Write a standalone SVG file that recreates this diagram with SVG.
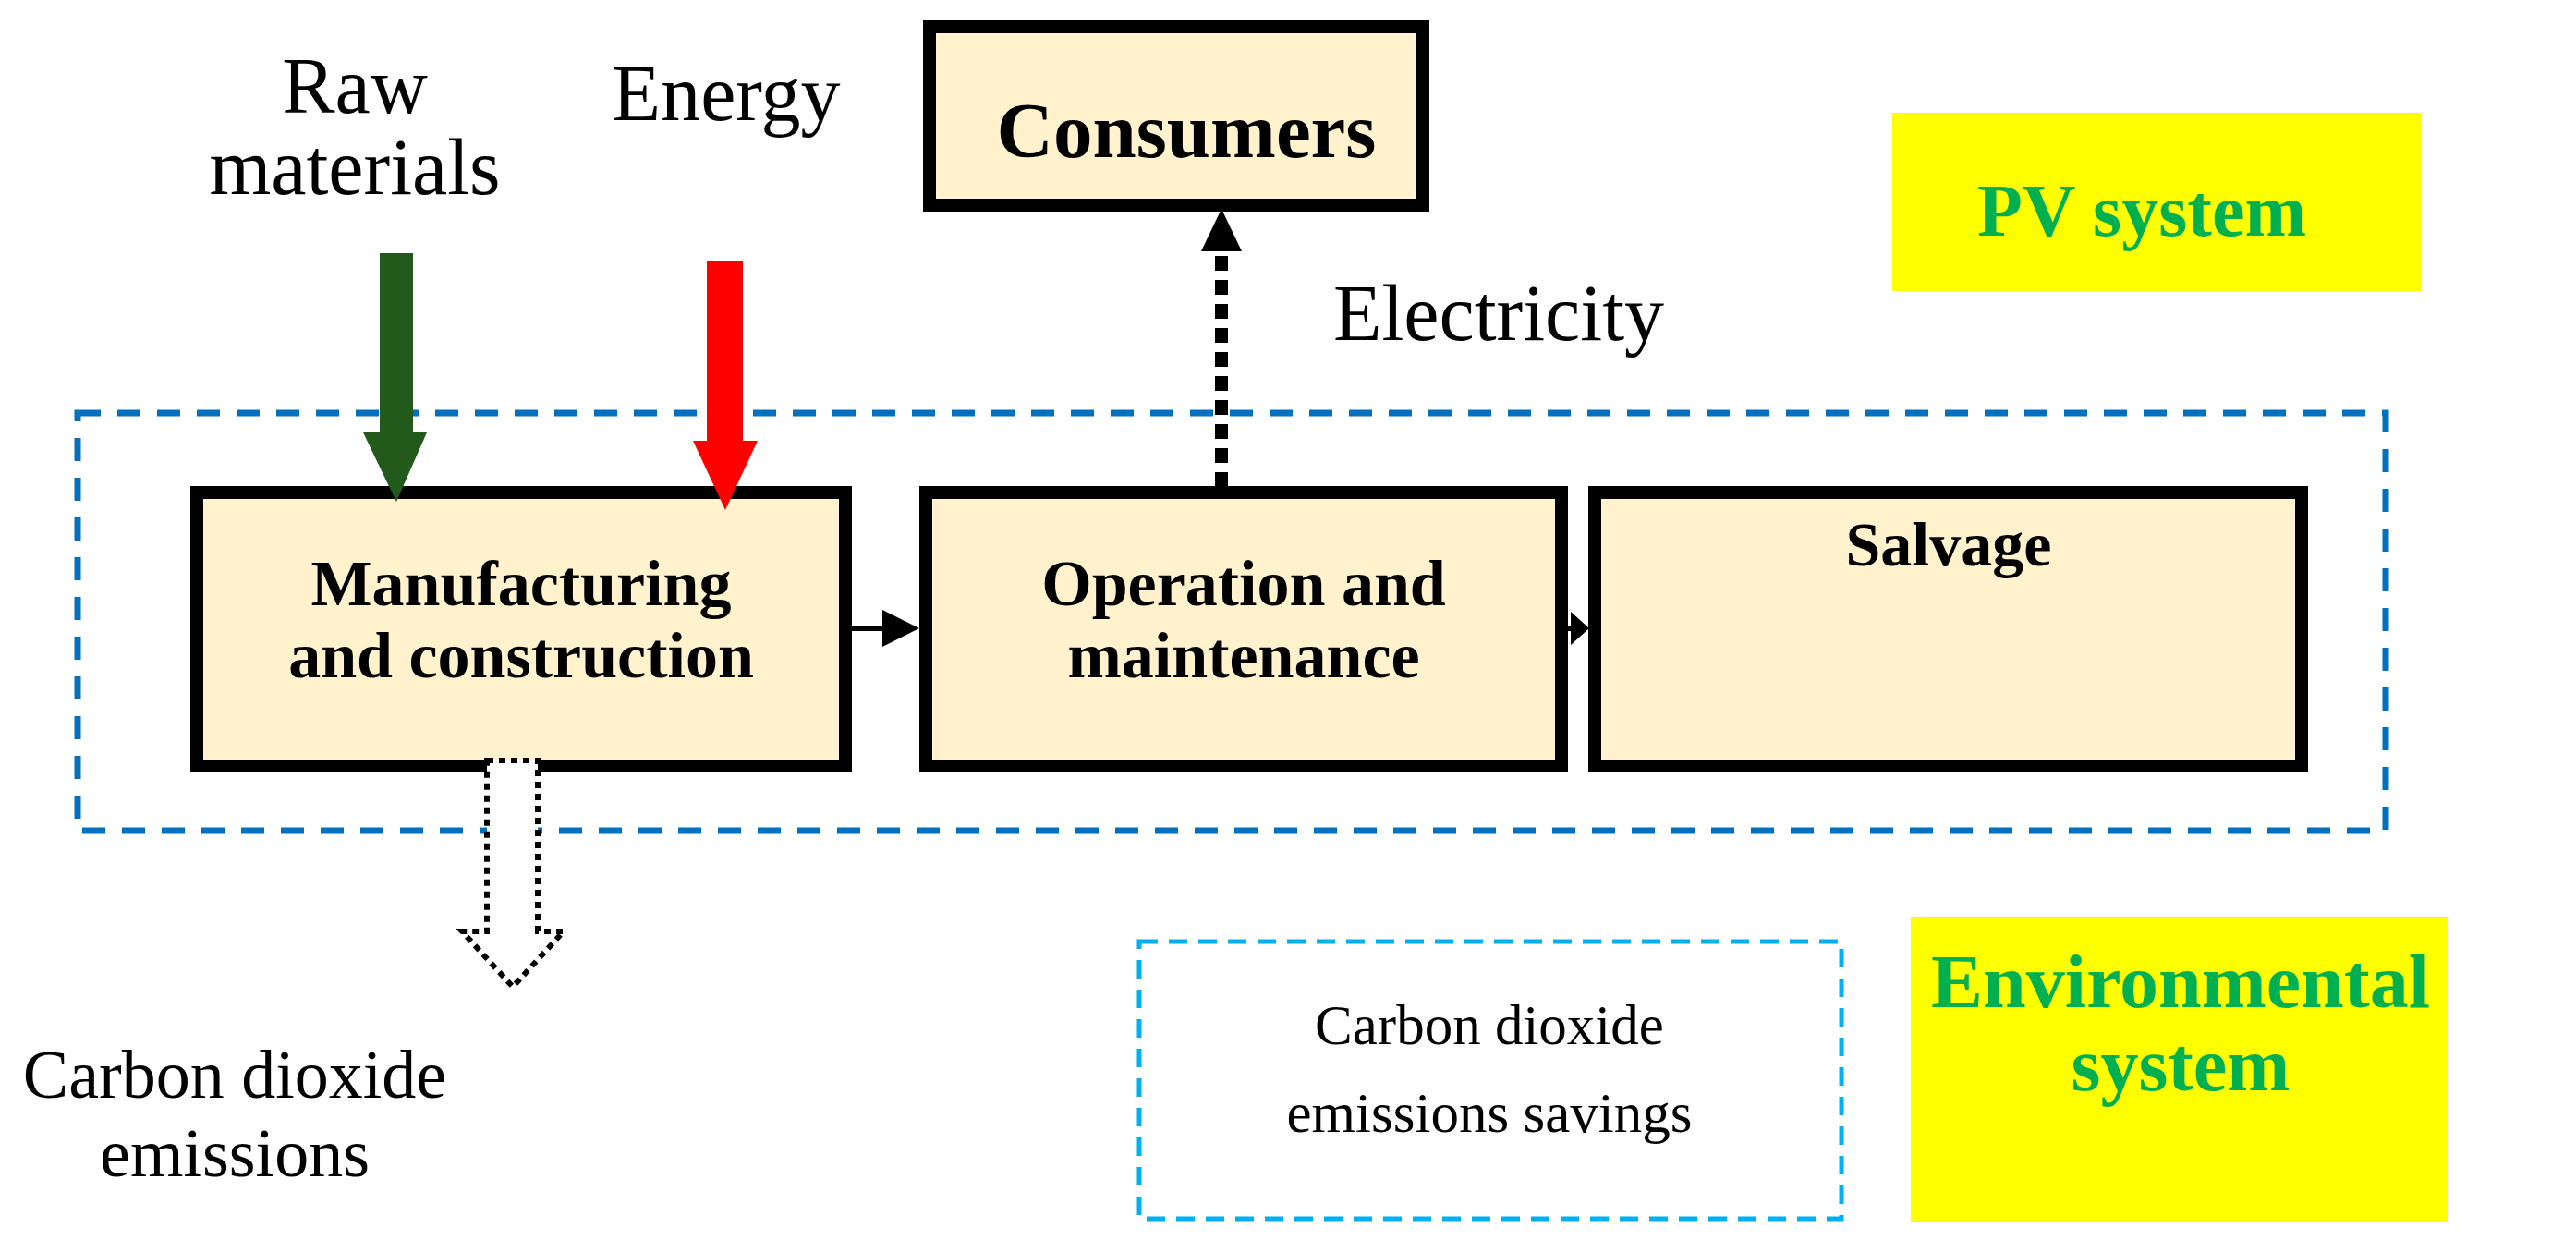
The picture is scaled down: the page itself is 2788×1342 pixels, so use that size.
<svg xmlns="http://www.w3.org/2000/svg" width="2788" height="1342" viewBox="0 0 2788 1342">
<style>
.box{fill:#fff2cc;stroke:#000;stroke-width:14}
.t{font-family:"Liberation Serif",serif;text-anchor:middle;fill:#000}
.b{font-weight:bold}
.g{fill:#00b050;font-weight:bold;font-family:"Liberation Serif",serif;text-anchor:middle}
</style>
<rect width="2788" height="1342" fill="#fff"/>
<g id="pv"><rect x="2048" y="122" width="572" height="193" fill="#ffff00"/><text class="g" x="2318" y="255" font-size="80">PV system</text></g>
<g id="env"><rect x="2068" y="992" width="582" height="330" fill="#ffff00"/><text class="g" x="2360" y="1090" font-size="82" textLength="540" lengthAdjust="spacingAndGlyphs">Environmental</text><text class="g" x="2360" y="1180" font-size="82">system</text></g>
<g id="pvbound"><rect x="84" y="447" width="2498" height="452" fill="none" stroke="#0070c0" stroke-width="7" stroke-dasharray="25,18"/></g>
<g id="savings"><rect x="1233" y="1019" width="760" height="300" fill="none" stroke="#00b0f0" stroke-width="5" stroke-dasharray="20,12"/><text class="t" x="1612" y="1130" font-size="61">Carbon dioxide</text><text class="t" x="1612" y="1225" font-size="61">emissions savings</text></g>
<g id="consumers"><rect class="box" x="1006" y="29" width="534" height="193"/><text class="t b" x="1284" y="170" font-size="85">Consumers</text></g>
<g id="manufacturing"><rect class="box" x="213" y="533" width="702" height="296"/><text class="t b" x="564" y="655" font-size="70">Manufacturing</text><text class="t b" x="564" y="733" font-size="70">and construction</text></g>
<g id="operation"><rect class="box" x="1002" y="533" width="688" height="296"/><text class="t b" x="1346" y="655" font-size="70">Operation and</text><text class="t b" x="1346" y="733" font-size="70">maintenance</text></g>
<g id="salvage"><rect class="box" x="1726" y="533" width="765" height="296"/><text class="t b" x="2109" y="612" font-size="68">Salvage</text></g>
<g id="labels">
<text class="t" x="384" y="122" font-size="86">Raw</text>
<text class="t" x="384" y="210" font-size="86">materials</text>
<text class="t" x="786" y="130" font-size="86">Energy</text>
<text class="t" x="1622" y="368" font-size="86">Electricity</text>
<text class="t" x="254" y="1188" font-size="74">Carbon dioxide</text>
<text class="t" x="254" y="1273" font-size="74">emissions</text>
</g>
<g id="connectors">
<path d="M411,274 H447 V468 H462 L429,543 L393,468 H411 Z" fill="#215a1b"/>
<path d="M765,283 H804 V477 H820 L785,552 L750,477 H765 Z" fill="#ff0000"/>
<path d="M527,823 H582 V1008 H610 L555,1068 L500,1008 H527 Z" fill="#fff" stroke="#000" stroke-width="6" stroke-dasharray="7,6"/>
<line x1="1322" y1="527" x2="1322" y2="270" stroke="#000" stroke-width="14" stroke-dasharray="16,10"/>
<path d="M1300,272 L1344,272 L1322,226 Z" fill="#000"/>
<line x1="922" y1="680" x2="960" y2="680" stroke="#000" stroke-width="6"/>
<path d="M955,660 L995,680 L955,700 Z" fill="#000"/>
<line x1="1697" y1="680" x2="1705" y2="680" stroke="#000" stroke-width="6"/>
<path d="M1700,662 L1720,680 L1700,698 Z" fill="#000"/>
</g>
</svg>
